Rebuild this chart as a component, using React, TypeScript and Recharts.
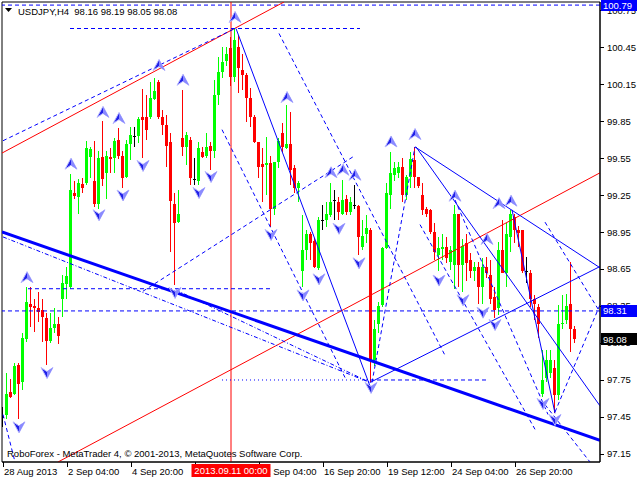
import { Bar, ComposedChart, ReferenceArea, ReferenceDot, ReferenceLine, XAxis, YAxis } from "recharts";

// USDJPY H4 candles, 28 Aug 12:00 .. 1 Oct 08:00
const opens = [
  97.45, 97.47, 97.65, 97.64, 97.87, 97.73, 98.08, 98.37, 98.35, 98.33, 98.32, 98.25, 98.07, 98.17, 98.2, 98.41,
  98.53, 98.5, 99.27, 99.23, 99.34, 99.35, 99.56, 99.36, 99.18, 99.56, 99.43, 99.56, 99.55, 99.7, 99.57, 99.4,
  99.66, 99.73, 99.73, 99.88, 99.88, 99.88, 100.03, 100.17, 99.88, 99.82, 99.68, 99.18, 99.03, 99.71, 99.64, 99.7,
  99.38, 99.36, 99.6, 99.57, 99.65, 99.61, 100.06, 100.25, 100.34, 100.44, 100.21, 100.45, 100.26, 100.22, 100.04, 99.88,
  99.68, 99.5, 99.49, 99.51, 99.14, 99.52, 99.75, 99.63, 99.66, 99.47, 99.31, 98.63, 98.8, 98.93, 98.88, 98.66,
  99.05, 99.05, 99.09, 99.21, 99.19, 99.1, 99.22, 99.11, 99.17, 99.16, 98.83, 98.93, 98.97, 97.91, 98.2, 98.36,
  98.82, 99.25, 99.41, 99.43, 99.48, 99.25, 99.4, 99.53, 99.4, 99.25, 99.14, 99.13, 98.95, 98.76, 98.81, 98.83,
  98.71, 98.68, 99.1, 98.68, 98.86, 98.72, 98.63, 98.67, 98.5, 98.67, 98.6, 98.42, 98.33, 98.8, 98.62, 98.91,
  99.07, 98.97, 98.97, 98.63, 98.62, 98.41, 98.34, 97.64, 97.77, 97.81, 97.85, 97.63, 98.2, 98.24, 98.37, 98.16,
];
const highs = [
  97.53, 97.81, 97.76, 97.89, 97.89, 98.13, 98.5, 98.5, 98.41, 98.46, 98.41, 98.29, 98.29, 98.33, 98.26, 98.6,
  98.67, 99.42, 99.36, 99.38, 99.39, 99.69, 99.64, 99.69, 99.61, 99.85, 99.61, 99.63, 99.71, 99.79, 99.61, 99.7,
  99.8, 99.8, 99.88, 100.11, 100.06, 100.17, 100.2, 100.18, 99.94, 99.9, 99.75, 99.27, 99.29, 100.1, 99.76, 99.72,
  99.55, 99.68, 99.64, 99.75, 99.68, 100.18, 100.37, 100.45, 100.45, 100.53, 100.6, 100.55, 100.39, 100.24, 100.12, 99.9,
  99.68, 99.63, 99.72, 99.57, 99.52, 99.71, 99.83, 99.98, 99.92, 99.49, 99.36, 99.09, 98.97, 98.95, 98.9, 99.07,
  99.17, 99.19, 99.35, 99.29, 99.23, 99.37, 99.25, 99.23, 99.33, 99.17, 99.05, 99.09, 98.98, 98.24, 98.38, 98.83,
  99.35, 99.6, 99.52, 99.52, 99.55, 99.41, 99.6, 99.64, 99.4, 99.35, 99.15, 99.14, 99.02, 98.91, 98.93, 98.91,
  98.84, 99.17, 99.1, 98.89, 98.93, 98.78, 98.71, 98.71, 98.74, 98.75, 98.72, 98.5, 98.87, 99.05, 99.02, 99.13,
  99.1, 99.0, 98.97, 98.75, 98.64, 98.44, 98.37, 97.99, 97.99, 97.99, 97.91, 98.36, 98.44, 98.45, 98.71, 98.19,
];
const lows = [
  97.37, 97.43, 97.6, 97.63, 97.43, 97.67, 98.06, 98.18, 98.14, 98.22, 98.06, 97.87, 98.05, 98.13, 98.04, 98.26,
  98.41, 98.49, 99.22, 99.1, 99.27, 99.33, 99.39, 99.15, 99.14, 99.32, 99.22, 99.43, 99.43, 99.54, 99.31, 99.39,
  99.53, 99.64, 99.67, 99.55, 99.7, 99.87, 100.02, 99.87, 99.74, 99.48, 98.79, 98.52, 99.02, 99.57, 99.49, 99.33,
  99.33, 99.33, 99.55, 99.55, 99.45, 99.55, 99.98, 100.2, 100.3, 100.13, 100.17, 100.08, 100.1, 99.84, 99.8, 99.67,
  99.39, 99.19, 99.25, 98.99, 99.09, 99.47, 99.6, 99.62, 99.33, 99.27, 99.19, 98.5, 98.72, 98.72, 98.66, 98.64,
  98.97, 98.99, 99.07, 99.05, 99.05, 99.09, 99.09, 99.09, 99.14, 98.76, 98.8, 98.86, 97.73, 97.86, 98.13, 98.34,
  98.81, 99.14, 99.36, 99.39, 99.19, 99.21, 99.31, 99.31, 99.31, 99.09, 99.07, 98.93, 98.72, 98.63, 98.72, 98.7,
  98.64, 98.49, 98.5, 98.46, 98.55, 98.58, 98.55, 98.37, 98.37, 98.58, 98.37, 98.25, 98.28, 98.62, 98.5, 98.79,
  98.86, 98.83, 98.62, 98.54, 98.34, 98.24, 98.09, 97.61, 97.73, 97.77, 97.48, 97.59, 98.16, 98.2, 97.98, 98.05,
];
const closes = [
  97.45, 97.64, 97.61, 97.86, 97.72, 98.09, 98.38, 98.34, 98.33, 98.3, 98.26, 98.07, 98.17, 98.2, 98.11, 98.54,
  98.59, 99.29, 99.24, 99.35, 99.31, 99.63, 99.62, 99.18, 99.55, 99.38, 99.57, 99.54, 99.69, 99.57, 99.39, 99.66,
  99.74, 99.73, 99.87, 99.86, 99.78, 100.04, 100.09, 99.88, 99.82, 99.65, 99.2, 99.02, 99.1, 99.64, 99.74, 99.39,
  99.38, 99.63, 99.56, 99.64, 99.61, 100.06, 100.25, 100.33, 100.39, 100.21, 100.51, 100.28, 100.22, 100.04, 99.88, 99.68,
  99.48, 99.48, 99.51, 99.14, 99.52, 99.69, 99.64, 99.66, 99.45, 99.31, 99.35, 98.8, 98.93, 98.86, 98.67, 99.05,
  99.05, 99.1, 99.19, 99.21, 99.11, 99.21, 99.11, 99.19, 99.17, 98.91, 98.92, 98.98, 97.91, 98.16, 98.35, 98.82,
  99.27, 99.43, 99.47, 99.48, 99.25, 99.4, 99.54, 99.4, 99.32, 99.13, 99.1, 98.95, 98.79, 98.82, 98.83, 98.74,
  98.8, 99.1, 98.68, 98.84, 98.7, 98.63, 98.67, 98.5, 98.67, 98.62, 98.41, 98.32, 98.8, 98.62, 98.93, 99.1,
  98.97, 98.94, 98.63, 98.63, 98.41, 98.37, 98.2, 97.75, 97.91, 97.91, 97.63, 98.2, 98.21, 98.35, 98.16, 98.08,
];

const priceTicks = [97.15, 97.45, 97.75, 98.05, 98.35, 98.65, 98.95, 99.25, 99.55, 99.85, 100.15, 100.45, 100.75];
const timeTicks = [0, 16, 32, 48, 64, 80, 96, 112, 128];
const timeLabels = ["28 Aug 2013", "2 Sep 04:00", "4 Sep 20:00", "9 Sep 12:00", "12 Sep 04:00", "16 Sep 20:00", "19 Sep 12:00", "24 Sep 04:00", "26 Sep 20:00"];

// vertical marker and horizontal price levels
const markerBar = 57;
const markerLabel = "2013.09.11 00:00";
const levelPrices = [100.79, 98.31];
const bidPrice = 98.08;

type Pt = [number, number];
type Seg = [Pt, Pt];

// trend lines, [bar, price] -> [bar, price]
const redLines: Seg[] = [
  [[-0.25, 99.59], [70.25, 100.815]],
  [[13.75, 97.085], [149.25, 99.43]],
];
const thickLines: Seg[] = [[[-0.25, 98.95], [149.25, 97.26]]];
const solidLines: Seg[] = [
  [[58.25, 100.6], [91.75, 97.7]],
  [[91.75, 97.73], [149.25, 98.67]],
  [[103, 99.64], [149.25, 98.66]],
  [[103.25, 99.64], [149.25, 97.54]],
  [[127.25, 99.13], [138, 97.48]],
];
const dashedLines: Seg[] = [
  [[0, 99.69], [58, 100.6]],
  [[16.75, 100.6], [89.25, 100.6]],
  [[6.25, 98.49], [67.25, 98.49]],
  [[91.75, 97.75], [121.25, 97.75]],
  [[35, 98.47], [88, 99.57]],
  [[69, 100.56], [110.5, 97.95]],
  [[54.75, 99.78], [85.5, 97.77]],
  [[113, 99.21], [136.25, 97.47]],
  [[138, 97.49], [149.25, 98.36]],
  [[135.5, 97.55], [146.75, 97.085]],
  [[135.5, 99.03], [149.25, 98.3]],
  [[0, 97.47], [3, 97.085]],
  [[92.25, 97.73], [103, 99.64]],
  [[104.25, 99.01], [133, 97.35]],
];
const dottedLines: Seg[] = [[[54.75, 97.75], [91.75, 97.75]]];
const dashDotLines: Seg[] = [
  [[0, 98.91], [91.75, 97.73]],
  [[43.25, 98.48], [91.75, 97.73]],
];

// fractal arrows [bar, price]
const upFractals: Pt[] = [
  [6, 98.58], [17, 99.5], [25, 99.92], [29, 99.87], [39, 100.3], [45, 100.18], [58, 100.69], [71, 100.04],
  [82, 99.43], [85, 99.45], [88, 99.41], [97, 99.68], [103, 99.74], [113, 99.24], [121, 98.89], [124, 99.18], [127, 99.2],
];
const downFractals: Pt[] = [
  [4, 97.37], [11, 97.81], [24, 99.09], [30, 99.25], [35, 99.49], [43, 98.46], [49, 99.27], [52, 99.4], [67, 98.93],
  [75, 98.44], [79, 98.57], [84, 98.98], [89, 98.7], [92, 97.69], [109, 98.56], [115, 98.4], [120, 98.3], [123, 98.2],
  [135, 97.56], [138, 97.43],
];

const FONT = '"Liberation Sans", Arial, sans-serif';
const BLUE = "#0000ff";
const RED = "#ff0000";
const X_DOMAIN: [number, number] = [-0.25, 149.25];
const Y_DOMAIN: [number, number] = [97.085, 100.815];
const PLOT_LEFT = 2;
const PLOT_TOP = 2;
const PLOT_RIGHT = 600;
const AXIS_Y = 462;
const PX_PER_BAR = (PLOT_RIGHT - PLOT_LEFT) / (X_DOMAIN[1] - X_DOMAIN[0]);
const PX_PER_PRICE = (AXIS_Y - PLOT_TOP) / (Y_DOMAIN[1] - Y_DOMAIN[0]);
const MARKER_HALF = 39.5;
const BOX_HALF = 6;

const data = opens.map((open, i) => ({ i, open, high: highs[i], low: lows[i], close: closes[i] }));

function Candle(props: any) {
  const { x, y, width, height, payload } = props;
  if (!payload) return null;
  const { open, close, high, low } = payload;
  const color = close > open ? "#00ff00" : close < open ? RED : "#000000";
  const top = Math.min(y, y + height);
  const span = Math.abs(height);
  const k = span / (high - low || 1);
  const cx = Math.floor(x + width / 2) + 0.5;
  const bodyTop = top + (high - Math.max(open, close)) * k;
  const bodyBottom = top + (high - Math.min(open, close)) * k;
  return (
    <g shapeRendering="crispEdges">
      <line x1={cx} x2={cx} y1={top} y2={top + span} stroke={color} />
      {open === close ? (
        <line x1={cx - 1.5} x2={cx + 1.5} y1={Math.round(bodyTop) + 0.5} y2={Math.round(bodyTop) + 0.5} stroke={color} />
      ) : (
        <rect x={cx - 1.5} y={bodyTop} width={3} height={Math.max(1, bodyBottom - bodyTop)} fill={color} />
      )}
    </g>
  );
}

function Fractal({ cx, cy, up }: { cx: number; cy: number; up: boolean }) {
  const s = up ? 1 : -1;
  const tip = cy - 6 * s;
  const tail = cy + 5 * s;
  const notch = cy + 1 * s;
  return (
    <g>
      <path d={`M${cx},${tip} L${cx + 6},${tail} L${cx},${notch} L${cx - 6},${tail} Z`} fill="#2020e8" stroke="#b8b8ff" strokeWidth={1} />
      <path d={`M${cx},${tip} L${cx + 6},${tail} L${cx},${notch} Z`} fill="#8a8aff" />
    </g>
  );
}

function PriceTick(props: any) {
  const { y, payload } = props;
  const v = payload.value as number;
  const yy = Math.round(y) + 0.5;
  if (levelPrices.includes(v) || v === bidPrice) {
    const fill = v === bidPrice ? "#000000" : BLUE;
    return (
      <g>
        <rect x={601} y={Math.round(y) - BOX_HALF} width={36} height={BOX_HALF * 2} fill={fill} />
        <text x={603} y={y + 3.5} fontSize={9.5} fontFamily={FONT} fill="#ffffff">{v.toFixed(2)}</text>
      </g>
    );
  }
  // a price box sitting close to this tick hides part of its label
  const boxY = [...levelPrices, bidPrice]
    .map((m) => y + (v - m) * PX_PER_PRICE)
    .find((my) => Math.abs(my - y) < 11);
  const clipId = `pclip${v}`;
  let clip = null;
  if (boxY !== undefined) {
    const y0 = boxY < y ? Math.round(boxY) + BOX_HALF : y - 20;
    const y1 = boxY < y ? y + 20 : Math.round(boxY) - BOX_HALF;
    clip = (
      <clipPath id={clipId}>
        <rect x={600} y={y0} width={40} height={Math.max(0, y1 - y0)} />
      </clipPath>
    );
  }
  return (
    <g>
      {clip}
      <line x1={600} x2={604} y1={yy} y2={yy} stroke="#000" />
      <text x={607} y={y + 3.5} fontSize={9.5} fontFamily={FONT} fill="#000" clipPath={clip ? `url(#${clipId})` : undefined}>
        {v.toFixed(2)}
      </text>
    </g>
  );
}

function TimeTick(props: any) {
  const { x, payload } = props;
  const v = payload.value as number;
  if (v === markerBar) {
    return (
      <g>
        <rect x={x - MARKER_HALF} y={AXIS_Y + 2} width={MARKER_HALF * 2} height={13} fill={RED} />
        <text x={x} y={AXIS_Y + 12} textAnchor="middle" fontSize={9.5} fontFamily={FONT} fill="#ffffff">{markerLabel}</text>
      </g>
    );
  }
  const idx = timeTicks.indexOf(v);
  const xx = Math.round(x) + 0.5;
  // the marker's date box covers the labels next to it
  const markerX = x + (markerBar - v) * PX_PER_BAR;
  const boxLeft = markerX - MARKER_HALF;
  const boxRight = markerX + MARKER_HALF;
  const covered = x + 1 >= boxLeft && x + 1 < boxRight;
  const clipId = `tclip${v}`;
  return (
    <g>
      <line x1={xx} x2={xx} y1={AXIS_Y} y2={AXIS_Y + 5} stroke="#000" />
      {covered && (
        <clipPath id={clipId}>
          <rect x={boxRight} y={AXIS_Y} width={120} height={18} />
        </clipPath>
      )}
      {(!covered || x + 60 > boxRight) && (
        <text x={x + 1} y={AXIS_Y + 13} fontSize={9.5} fontFamily={FONT} fill="#000" clipPath={covered ? `url(#${clipId})` : undefined}>
          {timeLabels[idx]}
        </text>
      )}
    </g>
  );
}

function segmentLines(list: Seg[], stroke: string, width: number, dash?: string, prefix = "s") {
  return list.map((s, k) => (
    <ReferenceLine
      key={`${prefix}${k}`}
      segment={[{ x: s[0][0], y: s[0][1] }, { x: s[1][0], y: s[1][1] }]}
      stroke={stroke}
      strokeWidth={width}
      strokeDasharray={dash}
      ifOverflow="hidden"
    />
  ));
}

export default function App() {
  const last = data[data.length - 1];
  const quote = [last.open, last.high, last.low, last.close].map((v) => v.toFixed(2)).join(" ");
  return (
    <div style={{ position: "fixed", left: 0, top: 0, width: 640, height: 480, background: "#fff" }}>
      <ComposedChart width={640} height={480} data={data} margin={{ top: PLOT_TOP, right: 0, bottom: 0, left: PLOT_LEFT }}>
        <XAxis
          type="number"
          dataKey="i"
          domain={X_DOMAIN}
          allowDataOverflow
          ticks={[...timeTicks, markerBar]}
          interval={0}
          tick={<TimeTick />}
          tickLine={false}
          axisLine={{ stroke: "#000" }}
          height={18}
        />
        <YAxis
          orientation="right"
          type="number"
          domain={Y_DOMAIN}
          allowDataOverflow
          ticks={[...priceTicks, ...levelPrices, bidPrice]}
          interval={0}
          tick={<PriceTick />}
          tickLine={false}
          axisLine={{ stroke: "#000" }}
          width={40}
        />
        <ReferenceArea x1={X_DOMAIN[0]} x2={X_DOMAIN[1]} y1={Y_DOMAIN[0]} y2={Y_DOMAIN[1]} fill="none" stroke="#000" fillOpacity={0} />
        <Bar dataKey={(d: any) => [d.low, d.high]} shape={<Candle />} barSize={3} isAnimationActive={false} />
        <ReferenceLine x={markerBar} stroke={RED} />
        {levelPrices.map((p) => (
          <ReferenceLine key={`lv${p}`} y={p} stroke={BLUE} strokeDasharray="4 3" />
        ))}
        {segmentLines(redLines, RED, 1, undefined, "r")}
        {segmentLines(thickLines, BLUE, 3, undefined, "t")}
        {segmentLines(solidLines, BLUE, 1, undefined, "l")}
        {segmentLines(dashedLines, BLUE, 1, "4 3", "d")}
        {segmentLines(dottedLines, BLUE, 1, "1 3", "o")}
        {segmentLines(dashDotLines, BLUE, 1, "4 2 1 2", "dd")}
        {upFractals.map(([b, p], k) => (
          <ReferenceDot key={`u${k}`} x={b} y={p} r={0} shape={(sp: any) => <Fractal cx={sp.cx} cy={sp.cy} up />} />
        ))}
        {downFractals.map(([b, p], k) => (
          <ReferenceDot key={`w${k}`} x={b} y={p} r={0} shape={(sp: any) => <Fractal cx={sp.cx} cy={sp.cy} up={false} />} />
        ))}
      </ComposedChart>
      <svg width={640} height={480} style={{ position: "absolute", left: 0, top: 0, pointerEvents: "none" }}>
        <polygon points="5,8 12,8 8.5,12" fill="#000" />
        <text x={18} y={15} fontSize={9.5} fontFamily={FONT} fill="#000" xmlSpace="preserve">
          {`USDJPY,H4  ${quote}`}
        </text>
        <text x={7} y={457} fontSize={9.5} fontFamily={FONT} fill="#000">
          RoboForex - MetaTrader 4, © 2001-2013, MetaQuotes Software Corp.
        </text>
      </svg>
    </div>
  );
}
